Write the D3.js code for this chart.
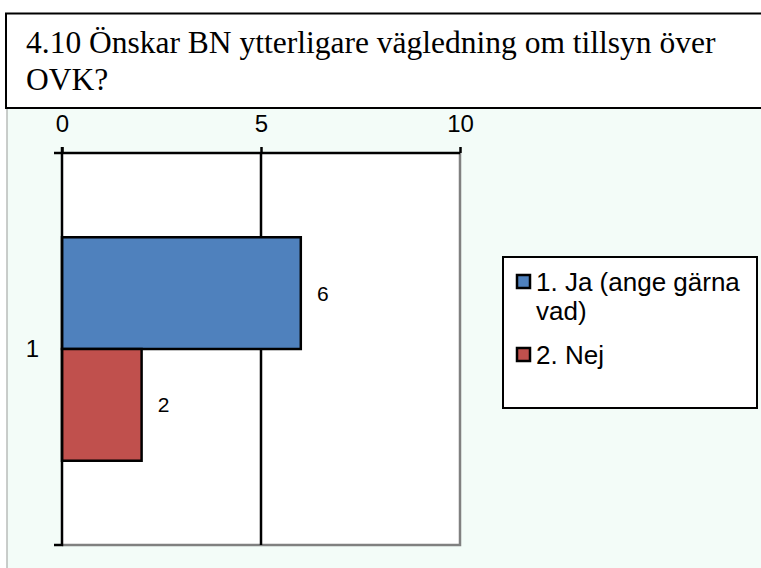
<!DOCTYPE html>
<html lang="sv">
<head>
<meta charset="UTF-8">
<title>4.10</title>
<style>
  body { margin: 0; background: #fff; }
  svg { display: block; }
</style>
</head>
<body>
<script src="https://d3js.org/d3.v7.min.js"></script>
<script>
    // data
    let titleLines = ["4.10 Önskar BN ytterligare vägledning om tillsyn över", "OVK?"];
    let categories = ["1"];
    let seriesNames = ["1. Ja (ange gärna vad)", "2. Nej"];
    let legendLines = [["1. Ja (ange gärna", "vad)"], ["2. Nej"]];
    let seriesValues = [6, 2];
    let seriesColors = ["#4F81BD", "#C0504D"];
    let xTicks = [0, 5, 10];

    let w = 761, h = 568;
    let plot = {left: 62, right: 460, top: 153, bottom: 545};
    let sans = "'Liberation Sans', Arial, sans-serif";

    let svg = d3.select("body")
        .append("svg")
        .attr("width", w)
        .attr("height", h);

    // title box
    svg.append("rect")
        .attr("x", 6).attr("y", 13.5)
        .attr("width", 800).attr("height", 94.5)
        .attr("fill", "#fff")
        .attr("stroke", "#000")
        .attr("stroke-width", 2);

    svg.selectAll("text.title")
        .data(titleLines)
        .enter()
        .append("text")
        .attr("class", "title")
        .attr("x", 26)
        .attr("y", (d, i) => 53 + i * 37)
        .style("font-family", "'Liberation Serif', 'Times New Roman', serif")
        .style("font-size", "31.5px")
        .text(d => d);

    // chart background
    svg.append("rect")
        .attr("x", 7).attr("y", 109)
        .attr("width", w).attr("height", h)
        .attr("fill", "#F3FCF8");
    svg.append("line")
        .attr("x1", 7).attr("x2", 7)
        .attr("y1", 109).attr("y2", h)
        .attr("stroke", "#b8bcba")
        .attr("stroke-width", 1.5);

    let x = d3.scaleLinear()
        .domain([0, 10])
        .range([plot.left, plot.right]);

    let y = d3.scaleBand()
        .domain(categories)
        .range([plot.top, plot.bottom]);

    let ys = d3.scaleBand()
        .domain(seriesNames)
        .range([0, y.bandwidth()])
        .paddingInner(0)
        .paddingOuter(0.754);

    // plot area
    svg.append("rect")
        .attr("x", plot.left).attr("y", plot.top)
        .attr("width", plot.right - plot.left)
        .attr("height", plot.bottom - plot.top)
        .attr("fill", "#fff");
    svg.append("path")
        .attr("d", "M" + plot.right + "," + plot.top + "V" + plot.bottom + "H" + plot.left)
        .attr("fill", "none")
        .attr("stroke", "#808080")
        .attr("stroke-width", 2.5);

    // gridlines
    svg.selectAll("line.grid")
        .data(xTicks.filter(d => d > 0 && d < 10))
        .enter()
        .append("line")
        .attr("class", "grid")
        .attr("x1", d => x(d)).attr("x2", d => x(d))
        .attr("y1", plot.top).attr("y2", plot.bottom)
        .attr("stroke", "#000")
        .attr("stroke-width", 2.5);

    // bars
    let bars = svg.append("g");
    seriesNames.forEach(function (s, i) {
        bars.append("rect")
            .attr("x", x(0))
            .attr("y", y(categories[0]) + ys(s))
            .attr("width", x(seriesValues[i]) - x(0))
            .attr("height", ys.bandwidth())
            .attr("fill", seriesColors[i])
            .attr("stroke", "#000")
            .attr("stroke-width", 2.5);
        bars.append("text")
            .attr("x", x(seriesValues[i]) + 22)
            .attr("y", y(categories[0]) + ys(s) + ys.bandwidth() / 2)
            .attr("dy", "0.36em")
            .attr("text-anchor", "middle")
            .style("font-family", sans)
            .style("font-size", "21px")
            .text(seriesValues[i]);
    });

    // top axis
    let xAxis = d3.axisTop(x)
        .tickValues(xTicks)
        .tickSize(6)
        .tickPadding(15)
        .tickSizeOuter(0);
    let gx = svg.append("g")
        .attr("transform", "translate(0," + plot.top + ")")
        .call(xAxis);
    gx.select(".domain")
        .attr("d", "M" + (plot.left - 8) + ",0H" + plot.right)
        .attr("stroke-width", 2.5);
    gx.selectAll(".tick line").attr("stroke-width", 2.5);
    gx.selectAll(".tick text")
        .style("font-family", sans)
        .style("font-size", "24px")
        .attr("fill", "#000");

    // left axis
    let yAxis = d3.axisLeft(y)
        .tickSize(0)
        .tickPadding(23)
        .tickSizeOuter(0);
    let gy = svg.append("g")
        .attr("transform", "translate(" + plot.left + ",0)")
        .call(yAxis);
    gy.select(".domain")
        .attr("d", "M0," + (plot.top - 6) + "V" + plot.bottom + "H-8")
        .attr("stroke-width", 2.5);
    gy.selectAll(".tick text")
        .style("font-family", sans)
        .style("font-size", "24px")
        .attr("fill", "#000");

    // legend
    let legend = svg.append("g");
    legend.append("rect")
        .attr("x", 503).attr("y", 257)
        .attr("width", 254).attr("height", 151)
        .attr("fill", "#fff")
        .attr("stroke", "#000")
        .attr("stroke-width", 2);
    let legendY = [291, 364];
    seriesNames.forEach(function (s, i) {
        legend.append("rect")
            .attr("x", 517).attr("y", legendY[i] - 16)
            .attr("width", 13).attr("height", 13)
            .attr("fill", seriesColors[i])
            .attr("stroke", "#000")
            .attr("stroke-width", 2.5);
        legend.selectAll(null)
            .data(legendLines[i])
            .enter()
            .append("text")
            .attr("x", 536)
            .attr("y", (d, j) => legendY[i] + j * 29)
            .style("font-family", sans)
            .style("font-size", "26px")
            .text(d => d);
    });
</script>
</body>
</html>
